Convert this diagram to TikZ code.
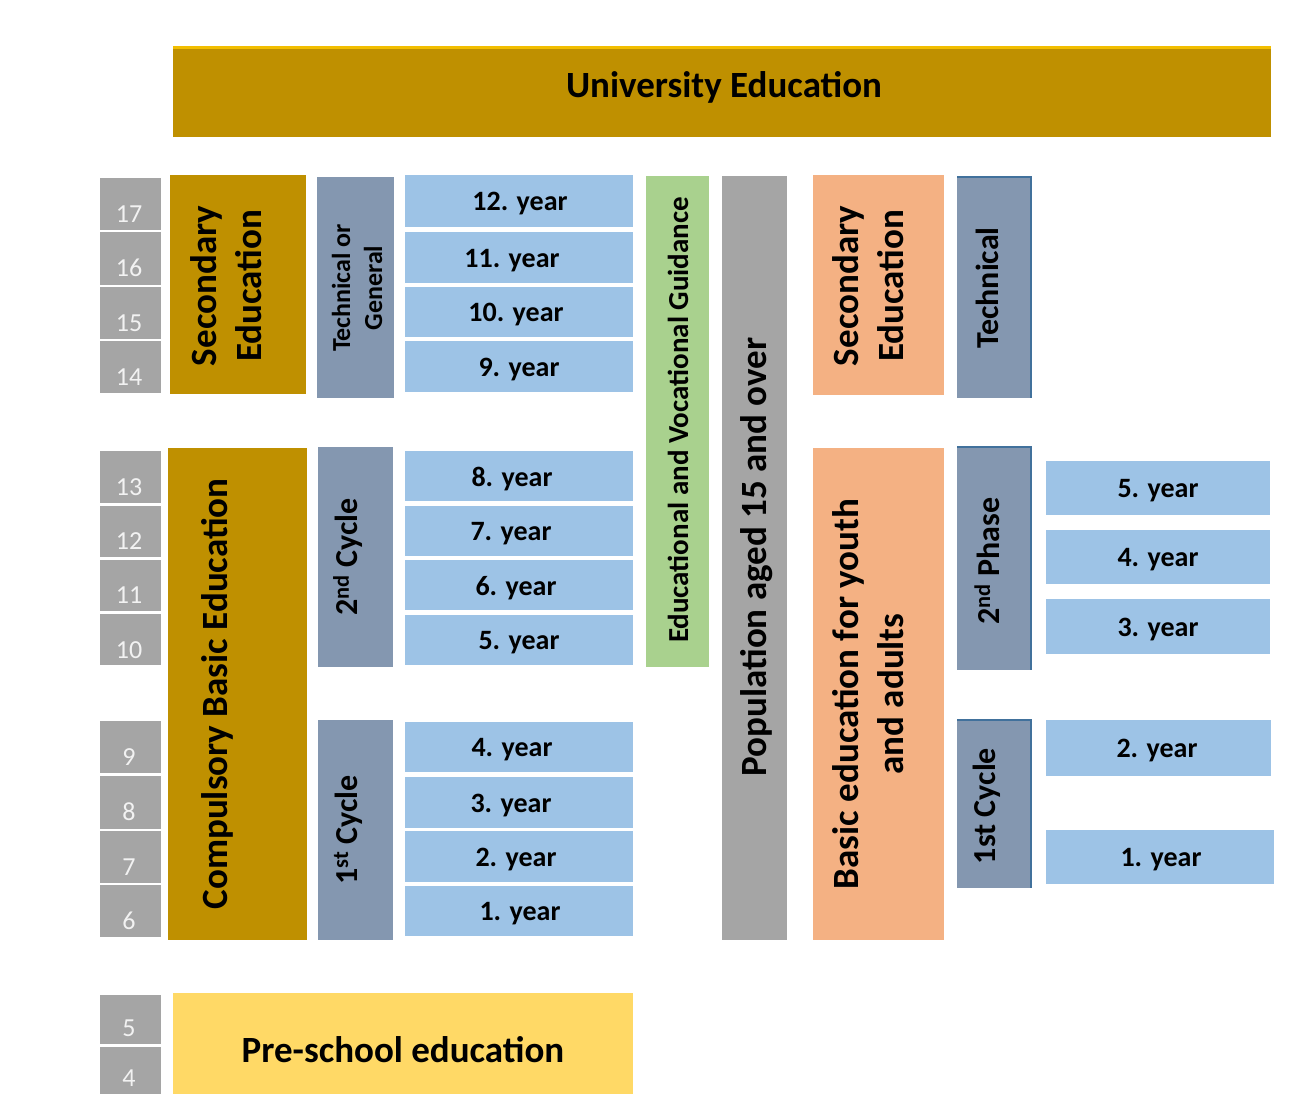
\documentclass[tikz,border=0pt]{standalone}
\usepackage{fontspec}
\setmainfont{Carlito}
\definecolor{cGold}{HTML}{BF9000}
\definecolor{cGoldEdge}{HTML}{F2BE00}
\definecolor{cSlate}{HTML}{8497B0}
\definecolor{cSlateEdge}{HTML}{41719C}
\definecolor{cBlue}{HTML}{9DC3E6}
\definecolor{cGreen}{HTML}{A9D18E}
\definecolor{cGray}{HTML}{A5A5A5}
\definecolor{cOrange}{HTML}{F4B183}
\definecolor{cYellow}{HTML}{FFD966}
\definecolor{cAgeTxt}{HTML}{F2F2F2}
\newcommand{\edbox}[6]{\node[blk,#6,minimum width={#4-#2},minimum height={#5-#3}] (#1) at (#2,#3) {};}
\begin{document}
\begin{tikzpicture}[x=1pt,y=-1pt,
  blk/.style={inner sep=0pt,outer sep=0pt,anchor=north west,draw=none},
  gold/.style={fill=cGold},
  slate/.style={fill=cSlate},
  yearbox/.style={fill=cBlue},
  green/.style={fill=cGreen},
  grayc/.style={fill=cGray},
  orange/.style={fill=cOrange},
  yellow/.style={fill=cYellow},
  agebox/.style={fill=cGray},
  big/.style={font=\fontsize{37}{45}\selectfont\bfseries,align=center,inner sep=0pt},
  mid/.style={font=\fontsize{32}{38}\selectfont\bfseries,align=center,inner sep=0pt},
  small/.style={font=\fontsize{26}{32}\selectfont\bfseries,align=center,inner sep=0pt},
  guid/.style={font=\fontsize{29}{34}\selectfont\bfseries,align=center,inner sep=0pt},
  yr/.style={font=\fontsize{28}{34}\selectfont\bfseries,inner sep=0pt},
  age/.style={font=\fontsize{26}{30}\selectfont,text=cAgeTxt,inner sep=0pt},
  edge/.style={draw=cSlateEdge,line width=1.5pt}
]
\useasboundingbox[fill=white] (0,0) rectangle (1298,1107);

% University
\edbox{uni}{173}{48}{1271}{137}{gold}
\draw[cGoldEdge,line width=3pt] (uni.north west) -- (uni.north east);
\node[big] (tuni) at (724,87) {University Education};

% ages
\edbox{a17}{100}{178}{161}{230}{agebox}
\edbox{a16}{100}{232}{161}{285}{agebox}
\edbox{a15}{100}{287}{161}{339}{agebox}
\edbox{a14}{100}{341}{161}{393}{agebox}
\edbox{a13}{100}{451}{161}{503}{agebox}
\edbox{a12}{100}{506}{161}{557}{agebox}
\edbox{a11}{100}{560}{161}{611}{agebox}
\edbox{a10}{100}{614}{161}{665}{agebox}
\edbox{a9}{100}{721}{161}{773}{agebox}
\edbox{a8}{100}{776}{161}{829}{agebox}
\edbox{a7}{100}{831}{161}{883}{agebox}
\edbox{a6}{100}{885}{161}{937}{agebox}
\edbox{a5}{100}{995}{161}{1044}{agebox}
\edbox{a4}{100}{1047}{161}{1094}{agebox}
\foreach \n/\y in {17/214,16/268,15/323,14/377,13/487,12/541,11/595,10/650,9/757,8/812,7/867,6/921,5/1028,4/1078}
  \node[age] (ta\n) at (129,\y) {\n};

% left gold / slate
\edbox{secL}{170}{175}{306}{394}{gold}
\node[big,rotate=90] (tsecL) at (226,286) {Secondary\\Education};
\edbox{tog}{317}{177}{394}{398}{slate}
\node[small,rotate=90] (ttog) at (357,288) {Technical or\\General};
\edbox{cbe}{168}{448}{307}{940}{gold}
\node[big,rotate=90] (tcbe) at (217,694) {Compulsory Basic Education};
\edbox{c2}{318}{447}{393}{667}{slate}
\node[mid,rotate=90] (tc2) at (348,557) {2\textsuperscript{nd} Cycle};
\edbox{c1}{318}{720}{393}{940}{slate}
\node[mid,rotate=90] (tc1) at (348,830) {1\textsuperscript{st} Cycle};

% left years
\foreach \nm/\ya/\yb/\tx/\lab in {
  y12/175/227/520/12, y11/232/283/512/11, y10/287/337/516/10, y9/341/392/519/9,
  y8/451/501/512/8, y7/506/556/511/7, y6/560/610/516/6, y5/615/665/519/5,
  y4/722/772/512/4, y3/777/828/511/3, y2/831/882/516/2, y1/886/936/520/1}{
  \edbox{\nm}{405}{\ya}{633}{\yb}{yearbox}
  \node[yr] (t\nm) at (\tx,{(\ya+\yb)/2+3}) {\lab. year};
}

% green and gray columns
\edbox{guide}{646}{176}{709}{667}{green}
\node[guid,rotate=90] (tguide) at (678,420) {Educational and Vocational Guidance};
\edbox{pop}{722}{176}{787}{940}{grayc}
\node[big,rotate=90] (tpop) at (757,557) {Population aged 15 and over};

% right side
\edbox{secR}{813}{175}{944}{395}{orange}
\node[big,rotate=90] (tsecR) at (868,286) {Secondary\\Education};
\edbox{tech}{957}{177}{1031}{398}{slate}
\draw[edge] (tech.north west) -- (tech.north east) -- (tech.south east);
\node[mid,rotate=90] (ttech) at (987,288) {Technical};
\edbox{beya}{813}{448}{944}{940}{orange}
\node[big,rotate=90] (tbeya) at (868,694) {Basic education for youth\\and adults};
\edbox{ph2}{957}{447}{1031}{670}{slate}
\draw[edge] (ph2.north west) -- (ph2.north east) -- (ph2.south east);
\node[mid,rotate=90] (tph2) at (987,561) {2\textsuperscript{nd} Phase};
\edbox{cy1}{957}{720}{1031}{888}{slate}
\draw[edge] (cy1.north west) -- (cy1.north east) -- (cy1.south east);
\node[mid,rotate=90] (tcy1) at (987,806) {1st Cycle};

\foreach \nm/\ya/\yb/\xb/\tx/\lab in {
  r5/461/515/1270/1158/5, r4/530/584/1270/1158/4, r3/599/654/1270/1158/3,
  r2/720/776/1271/1157/2, r1/830/884/1274/1161/1}{
  \edbox{\nm}{1046}{\ya}{\xb}{\yb}{yearbox}
  \node[yr] (t\nm) at (\tx,{(\ya+\yb)/2+3}) {\lab. year};
}

% pre-school
\edbox{pre}{173}{993}{633}{1094}{yellow}
\node[big] (tpre) at (403,1050) {Pre-school education};
\end{tikzpicture}
\end{document}
